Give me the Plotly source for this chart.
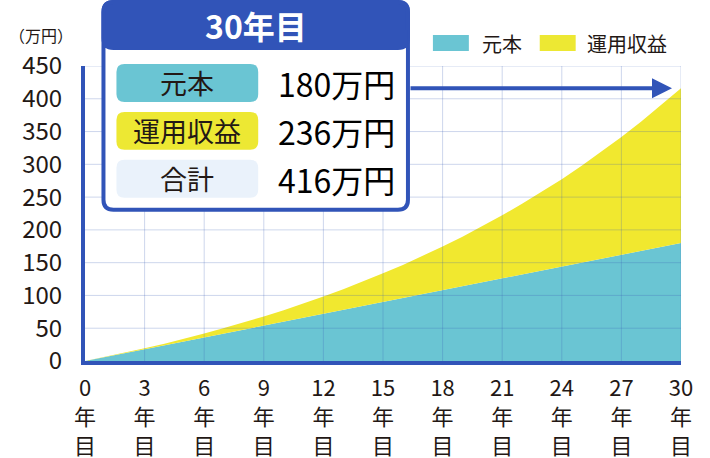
import plotly.graph_objects as go

# data (万円)
years = list(range(0, 31))
principal = [0, 6, 12, 18, 24, 30, 36, 42, 48, 54, 60, 66, 72, 78, 84, 90,
             96, 102, 108, 114, 120, 126, 132, 138, 144, 150, 156, 162, 168, 174, 180]
total = [0, 6.1, 12.6, 19.4, 26.5, 34.0, 41.9, 50.2, 58.9, 68.0, 77.6, 87.8,
         98.4, 109.6, 121.3, 133.7, 146.6, 160.3, 174.6, 189.7, 205.5, 222.2,
         239.7, 258.1, 277.4, 297.8, 319.2, 341.6, 365.2, 390.1, 416]
xticks = list(range(0, 31, 3))
yticks = list(range(0, 451, 50))
series_names = ["元本", "運用収益"]
box_title = "30年目"
box_labels = ["元本", "運用収益", "合計"]
box_values = ["180万円", "236万円", "416万円"]

BLUE = "#3154b8"
TEAL = "#6ac5d3"
YELLOW = "#f1e82f"
PALE = "#eaf2fb"
INK = "#231815"
FONT = "Noto Sans CJK JP"

W, H = 710, 458
L, R, T, B = 84.5, 28.5, 66, 96.5
PW, PH = W - L - R, H - T - B


def px(x):
    return (x - L) / PW


def py(y):
    return (H - B - y) / PH


def rrect(x0, y0, x1, y1, r):
    # rounded rectangle path, pixel coords -> paper coords
    pts = [
        ("M", x0 + r, y0), ("L", x1 - r, y0), ("Q", x1, y0, x1, y0 + r),
        ("L", x1, y1 - r), ("Q", x1, y1, x1 - r, y1), ("L", x0 + r, y1),
        ("Q", x0, y1, x0, y1 - r), ("L", x0, y0 + r), ("Q", x0, y0, x0 + r, y0),
    ]
    s = ""
    for p in pts:
        c = p[0]
        nums = p[1:]
        coords = []
        for i in range(0, len(nums), 2):
            coords.append(f"{px(nums[i]):.5f},{py(nums[i + 1]):.5f}")
        s += c + " " + " ".join(coords) + " "
    return s + "Z"


def label(x, y, text, size, color=INK, xanchor="center"):
    return dict(x=px(x), y=py(y), xref="paper", yref="paper", text=text,
                xanchor=xanchor, yanchor="middle", showarrow=False,
                font=dict(family=FONT, size=size, color=color))


fig = go.Figure()
fig.add_trace(go.Scatter(x=years, y=principal, mode="lines", line=dict(width=0),
                         fill="tozeroy", fillcolor=TEAL, name=series_names[0],
                         hoverinfo="skip", showlegend=False))
fig.add_trace(go.Scatter(x=years, y=total, mode="lines", line=dict(width=0),
                         fill="tonexty", fillcolor=YELLOW, name=series_names[1],
                         hoverinfo="skip", showlegend=False))

shapes = []
gridc = "rgba(60,95,185,0.25)"
for v in xticks[1:]:
    shapes.append(dict(type="line", xref="x", yref="y", x0=v, x1=v, y0=0, y1=450,
                       line=dict(color=gridc, width=1), layer="above"))
for v in yticks[1:]:
    shapes.append(dict(type="line", xref="x", yref="y", x0=0, x1=30, y0=v, y1=v,
                       line=dict(color=gridc, width=1), layer="above"))

# info box
shapes.append(dict(type="path", xref="paper", yref="paper",
                   path=rrect(103, 2, 408, 210, 10),
                   fillcolor="white", line=dict(color=BLUE, width=4), layer="above"))
shapes.append(dict(type="path", xref="paper", yref="paper",
                   path=rrect(103, 2, 408, 48, 10),
                   fillcolor=BLUE, line=dict(color=BLUE, width=4), layer="above"))
shapes.append(dict(type="rect", xref="paper", yref="paper",
                   x0=px(103), x1=px(408), y0=py(48), y1=py(30),
                   fillcolor=BLUE, line=dict(width=0), layer="above"))
pill_colors = [TEAL, "#ede833", PALE]
row_y = [83, 131, 179]
for c, yc in zip(pill_colors, row_y):
    shapes.append(dict(type="path", xref="paper", yref="paper",
                       path=rrect(116, yc - 19, 258, yc + 19, 8),
                       fillcolor=c, line=dict(width=0), layer="above"))

# legend swatches
shapes.append(dict(type="rect", xref="paper", yref="paper",
                   x0=px(433), x1=px(469), y0=py(51), y1=py(35),
                   fillcolor=TEAL, line=dict(width=0)))
shapes.append(dict(type="rect", xref="paper", yref="paper",
                   x0=px(540), x1=px(576), y0=py(51), y1=py(35),
                   fillcolor="#ede833", line=dict(width=0)))

ann = []
ann.append(dict(x=30, y=total[-1], xref="x", yref="y", ax=-272, ay=0,
                axref="pixel", ayref="pixel", text="", showarrow=True,
                arrowhead=2, arrowsize=1, arrowwidth=4, arrowcolor=BLUE, standoff=9))
ann.append(label(256, 25, f"<b>{box_title}</b>", 32, "white"))
for lab, val, yc in zip(box_labels, box_values, row_y):
    ann.append(label(187, yc, lab, 27))
    ann.append(label(336, yc, val, 32, "black"))
ann.append(label(480, 43, series_names[0], 20, xanchor="left"))
ann.append(label(585, 43, series_names[1], 20, xanchor="left"))
ann.append(label(40, 35, "（万円）", 16))

fig.update_layout(
    width=W, height=H,
    margin=dict(l=L, r=R, t=T, b=B, pad=0),
    paper_bgcolor="white", plot_bgcolor="white",
    font=dict(family=FONT, color=INK),
    shapes=shapes, annotations=ann,
    xaxis=dict(range=[0, 30], tickvals=xticks, automargin=False,
               ticktext=[f"{v}<br>年<br>目" for v in xticks],
               showgrid=False, zeroline=False, showline=True, linewidth=4, linecolor=BLUE,
               ticks="", ticklabelstandoff=5, tickfont=dict(size=22, color=INK)),
    yaxis=dict(range=[0, 450], tickvals=yticks, showgrid=False, zeroline=False,
               automargin=False,
               showline=True, linewidth=4, linecolor=BLUE,
               ticks="", ticklabelstandoff=14, tickfont=dict(size=24, color=INK)),
)

fig.write_html("out.html", config={"displayModeBar": False},
               post_script="document.body.style.margin='0';")
